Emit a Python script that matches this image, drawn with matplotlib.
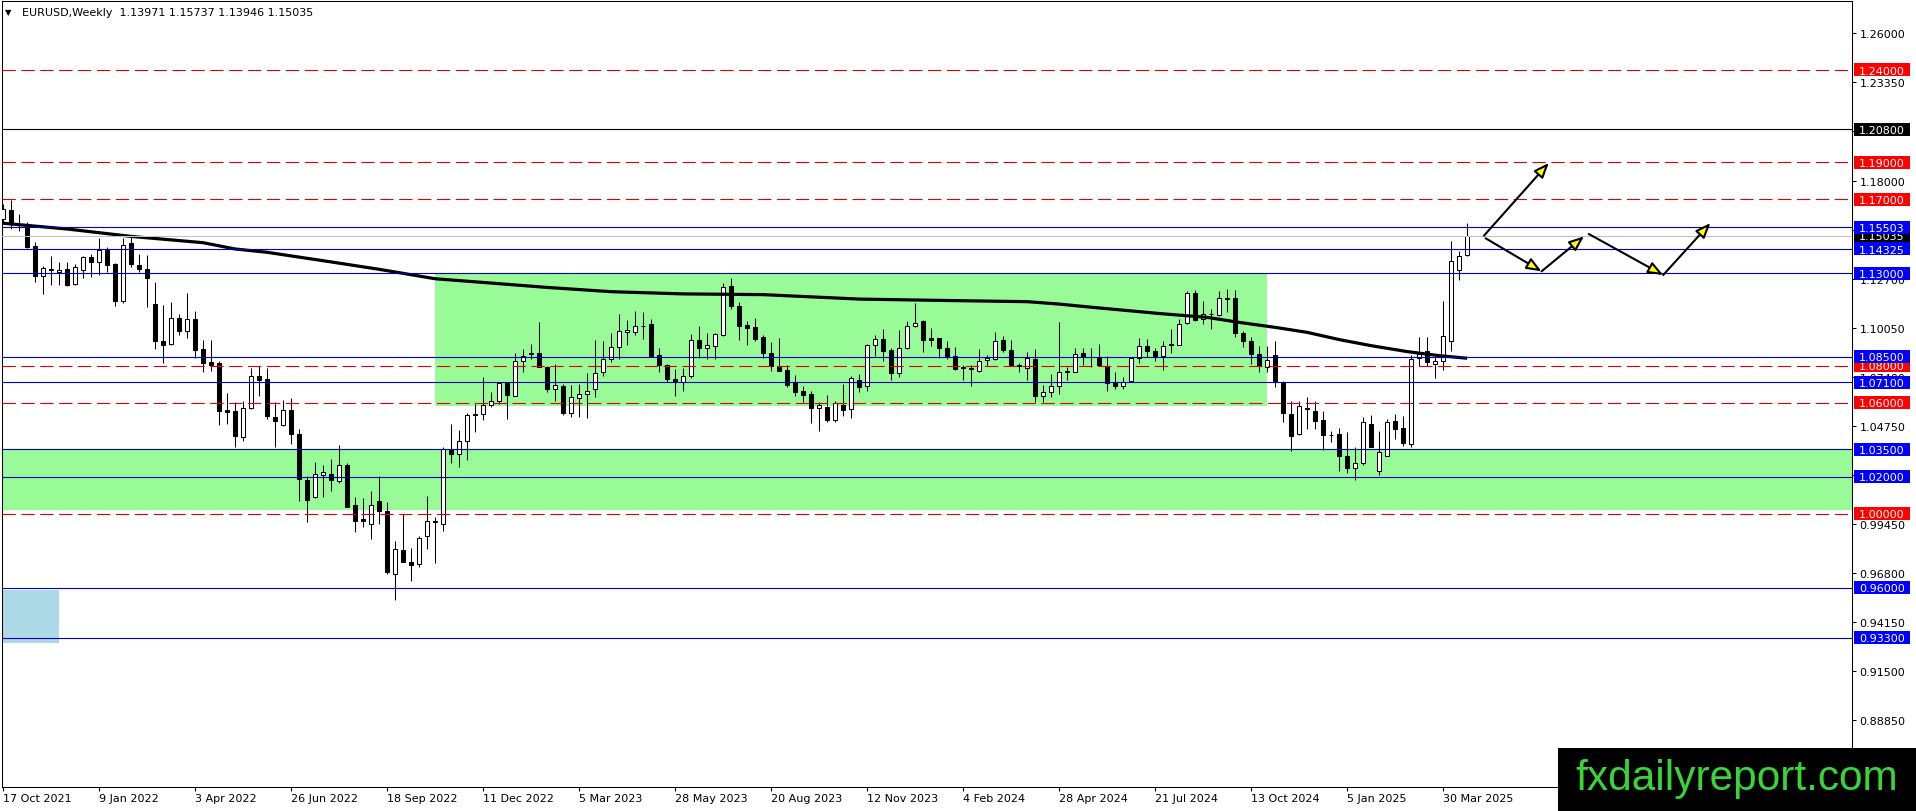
import numpy as np
import matplotlib
matplotlib.use("Agg")
import matplotlib.pyplot as plt
from matplotlib.patches import Rectangle
from matplotlib.transforms import blended_transform_factory

# EURUSD weekly candles, week 0 = 17 Oct 2021
opens = [1.1594, 1.1642, 1.1565, 1.1567, 1.1450, 1.1288, 1.1317, 1.1306, 1.1323, 1.1242,
         1.1319, 1.1391, 1.1359, 1.1427, 1.1350, 1.1152, 1.1466, 1.1346, 1.1323, 1.1135,
         1.0935, 1.0919, 1.1058, 1.0989, 1.1052, 1.0890, 1.0819, 1.0815, 1.0563, 1.0557,
         1.0413, 1.0572, 1.0743, 1.0729, 1.0522, 1.0482, 1.0559, 1.0431, 1.0183, 1.0089,
         1.0211, 1.0215, 1.0179, 1.0264, 1.0048, 0.9972, 0.9945, 1.0071, 1.0013, 0.9674,
         0.9804, 0.9737, 0.9728, 0.9877, 0.9955, 0.9944, 1.0343, 1.0322, 1.0394, 1.0533,
         1.0542, 1.0587, 1.0611, 1.0706, 1.0638, 1.0827, 1.0872, 1.0868, 1.0794, 1.0677,
         1.0691, 1.0544, 1.0628, 1.0650, 1.0673, 1.0769, 1.0839, 1.0904, 1.0983, 1.0985,
         1.1013, 1.1025, 1.0859, 1.0805, 1.0728, 1.0710, 1.0746, 1.0941, 1.0894, 1.0908,
         1.0966, 1.1229, 1.1124, 1.1019, 1.1012, 1.0954, 1.0867, 1.0800, 1.0777, 1.0711,
         1.0662, 1.0648, 1.0570, 1.0575, 1.0509, 1.0590, 1.0566, 1.0725, 1.0689, 1.0912,
         1.0945, 1.0887, 1.0759, 1.0894, 1.1016, 1.1043, 1.0948, 1.0948, 1.0896, 1.0851,
         1.0794, 1.0787, 1.0774, 1.0833, 1.0837, 1.0940, 1.0887, 1.0806, 1.0786, 1.0837,
         1.0635, 1.0657, 1.0693, 1.0766, 1.0768, 1.0867, 1.0849, 1.0849, 1.0800, 1.0707,
         1.0693, 1.0718, 1.0842, 1.0905, 1.0882, 1.0855, 1.0915, 1.0914, 1.1030, 1.1192,
         1.1053, 1.1080, 1.1075, 1.1165, 1.1165, 1.0976, 1.0932, 1.0864, 1.0792, 1.0860,
         1.0711, 1.0539, 1.0433, 1.0572, 1.0557, 1.0509, 1.0428, 1.0431, 1.0311, 1.0246,
         1.0273, 1.0485, 1.0233, 1.0314, 1.0500, 1.0464, 1.0377, 1.0841, 1.0882, 1.0811,
         1.0824, 1.0933, 1.1320, 1.13971]
highs = [1.1675, 1.1698, 1.1621, 1.1576, 1.1468, 1.1341, 1.1395, 1.1359, 1.1364, 1.1350,
         1.1395, 1.1404, 1.1490, 1.1440, 1.1355, 1.1493, 1.1508, 1.1404, 1.1400, 1.1252,
         1.1130, 1.1144, 1.1079, 1.1193, 1.1095, 1.0941, 1.0941, 1.0824, 1.0653, 1.0606,
         1.0610, 1.0788, 1.0797, 1.0788, 1.0604, 1.0613, 1.0626, 1.0459, 1.0206, 1.0278,
         1.0264, 1.0296, 1.0372, 1.0275, 1.0089, 1.0085, 1.0122, 1.0203, 1.0061, 0.9854,
         0.9998, 0.9813, 0.9881, 1.0094, 0.9980, 1.0363, 1.0484, 1.0451, 1.0547, 1.0596,
         1.0737, 1.0661, 1.0713, 1.0711, 1.0872, 1.0890, 1.0917, 1.1037, 1.0799, 1.0808,
         1.0700, 1.0694, 1.0700, 1.0760, 1.0938, 1.0935, 1.0975, 1.1079, 1.1047, 1.1094,
         1.1092, 1.1052, 1.0899, 1.0809, 1.0782, 1.0786, 1.0973, 1.1013, 1.0977, 1.0980,
         1.1247, 1.1277, 1.1145, 1.1043, 1.1060, 1.0965, 1.0927, 1.0949, 1.0806, 1.0748,
         1.0690, 1.0665, 1.0603, 1.0642, 1.0610, 1.0701, 1.0747, 1.0756, 1.0918, 1.0966,
         1.1000, 1.0894, 1.0993, 1.1043, 1.1142, 1.1046, 1.1002, 1.0948, 1.0935, 1.0900,
         1.0806, 1.0802, 1.0890, 1.0860, 1.0981, 1.0963, 1.0942, 1.0817, 1.0876, 1.0891,
         1.0697, 1.0756, 1.1039, 1.0795, 1.0894, 1.0894, 1.0894, 1.0917, 1.0854, 1.0765,
         1.0738, 1.0846, 1.0950, 1.0946, 1.0895, 1.0936, 1.0998, 1.1053, 1.1206, 1.1210,
         1.1152, 1.1107, 1.1206, 1.1215, 1.1210, 1.0991, 1.0954, 1.0909, 1.0909, 1.0936,
         1.0720, 1.0611, 1.0611, 1.0630, 1.0611, 1.0557, 1.0449, 1.0465, 1.0442, 1.0360,
         1.0522, 1.0535, 1.0449, 1.0513, 1.0539, 1.0530, 1.0860, 1.0954, 1.0954, 1.0855,
         1.1149, 1.1473, 1.1423, 1.15737]
lows = [1.1572, 1.1540, 1.1531, 1.1437, 1.1255, 1.1188, 1.1239, 1.1235, 1.1233, 1.1238,
        1.1274, 1.1278, 1.1292, 1.1310, 1.1125, 1.1139, 1.1337, 1.1308, 1.1117, 1.0892,
        1.0813, 1.0910, 1.0967, 1.0953, 1.0845, 1.0766, 1.0770, 1.0478, 1.0485, 1.0359,
        1.0395, 1.0566, 1.0635, 1.0514, 1.0359, 1.0473, 1.0377, 1.0071, 0.9953, 1.0084,
        1.0093, 1.0125, 1.0165, 1.0035, 0.9903, 0.9928, 0.9864, 0.9946, 0.9674, 0.9535,
        0.9737, 0.9635, 0.9710, 0.9809, 0.9733, 0.9908, 1.0273, 1.0251, 1.0291, 1.0443,
        1.0508, 1.0578, 1.0596, 1.0513, 1.0636, 1.0769, 1.0836, 1.0791, 1.0659, 1.0610,
        1.0535, 1.0525, 1.0525, 1.0516, 1.0634, 1.0747, 1.0818, 1.0836, 1.0911, 1.0965,
        1.0943, 1.0851, 1.0764, 1.0710, 1.0635, 1.0665, 1.0733, 1.0845, 1.0836, 1.0836,
        1.0962, 1.1109, 1.0940, 1.0911, 1.0934, 1.0845, 1.0774, 1.0770, 1.0687, 1.0639,
        1.0605, 1.0489, 1.0449, 1.0495, 1.0495, 1.0526, 1.0520, 1.0657, 1.0666, 1.0851,
        1.0828, 1.0724, 1.0740, 1.0890, 1.1011, 1.0876, 1.0905, 1.0845, 1.0836, 1.0780,
        1.0725, 1.0693, 1.0765, 1.0797, 1.0834, 1.0876, 1.0800, 1.0767, 1.0724, 1.0603,
        1.0606, 1.0630, 1.0648, 1.0724, 1.0764, 1.0804, 1.0792, 1.0800, 1.0666, 1.0675,
        1.0675, 1.0718, 1.0815, 1.0850, 1.0825, 1.0779, 1.0872, 1.0910, 1.1026, 1.1044,
        1.1026, 1.0999, 1.1072, 1.1089, 1.0954, 1.0900, 1.0810, 1.0765, 1.0765, 1.0684,
        1.0497, 1.0338, 1.0425, 1.0458, 1.0458, 1.0346, 1.0386, 1.0229, 1.0219, 1.0182,
        1.0265, 1.0360, 1.0211, 1.0311, 1.0405, 1.0368, 1.0360, 1.0801, 1.0801, 1.0733,
        1.0779, 1.0882, 1.1266, 1.13946]
closes = [1.1648, 1.1567, 1.1568, 1.1441, 1.1288, 1.1328, 1.1321, 1.1319, 1.1239, 1.1333,
          1.1391, 1.1364, 1.1424, 1.1346, 1.1152, 1.1454, 1.1350, 1.1324, 1.1274, 1.0935,
          1.0913, 1.1058, 1.0989, 1.1052, 1.0883, 1.0815, 1.0806, 1.0554, 1.0550, 1.0419,
          1.0572, 1.0743, 1.0725, 1.0527, 1.0500, 1.0563, 1.0433, 1.0188, 1.0075, 1.0215,
          1.0224, 1.0185, 1.0264, 1.0035, 0.9963, 0.9959, 1.0048, 1.0017, 0.9687, 0.9809,
          0.9741, 0.9724, 0.9867, 0.9962, 0.9960, 1.0349, 1.0325, 1.0394, 1.0533, 1.0542,
          1.0587, 1.0611, 1.0706, 1.0643, 1.0827, 1.0854, 1.0863, 1.0796, 1.0677, 1.0695,
          1.0544, 1.0634, 1.0646, 1.0664, 1.0763, 1.0839, 1.0904, 1.0989, 1.0992, 1.1016,
          1.1018, 1.0854, 1.0803, 1.0728, 1.0710, 1.0746, 1.0941, 1.0894, 1.0912, 1.0972,
          1.1229, 1.1124, 1.1016, 1.1007, 1.0944, 1.0869, 1.0797, 1.0774, 1.0698, 1.0657,
          1.0644, 1.0570, 1.0588, 1.0507, 1.0599, 1.0563, 1.0734, 1.0687, 1.0914, 1.0945,
          1.0882, 1.0761, 1.0894, 1.1013, 1.1034, 1.0941, 1.0941, 1.0896, 1.0855, 1.0783,
          1.0790, 1.0784, 1.0824, 1.0842, 1.0936, 1.0887, 1.0804, 1.0797, 1.0842, 1.0639,
          1.0657, 1.0693, 1.0765, 1.0770, 1.0864, 1.0849, 1.0850, 1.0804, 1.0707, 1.0693,
          1.0714, 1.0842, 1.0905, 1.0882, 1.0855, 1.0909, 1.0918, 1.1026, 1.1192, 1.1048,
          1.1080, 1.1078, 1.1165, 1.1163, 1.0976, 1.0936, 1.0864, 1.0801, 1.0833, 1.0720,
          1.0545, 1.0422, 1.0581, 1.0567, 1.0503, 1.0428, 1.0428, 1.0311, 1.0246, 1.0273,
          1.0494, 1.0363, 1.0332, 1.0494, 1.0458, 1.0381, 1.0837, 1.0864, 1.0819, 1.0826,
          1.0963, 1.1365, 1.1396, 1.15035]

# moving average (week index, value)
ma_week = [-0.2, 8, 16, 25, 29, 33, 41, 47, 54, 60, 68, 76, 85, 95, 107, 114, 120,
           128, 132, 136, 140.5, 144.5, 150.5, 154.5, 159, 163, 167, 171, 175.5, 179.5, 183]
ma_value = [1.1572, 1.1540, 1.1500, 1.1466, 1.1432, 1.1414, 1.1362, 1.1322, 1.1271, 1.1251,
            1.1224, 1.1201, 1.1189, 1.1185, 1.1161, 1.1156, 1.1152, 1.1147, 1.1134, 1.1117,
            1.1099, 1.1083, 1.1062, 1.1035, 1.1008, 1.0981, 1.0942, 1.0909, 1.0877, 1.0855, 1.0841]

red_levels = [1.24, 1.19, 1.17, 1.08, 1.06, 1.00]
blue_levels = [1.15503, 1.14325, 1.13, 1.085, 1.071, 1.035, 1.02, 0.96, 0.933]
black_level = 1.208
last_price = closes[-1]

# zones: (week from, week to, price low, price high)
range_zone = (54.0, 158.0, 1.0584, 1.1300)
support_zone = (1.0022, 1.0346)
target_box = (-0.19, 7.0, 0.9299, 0.9588)

# projected path drawn as arrows: (start, end)
arrows = [((185.1, 1.1504), (193.2, 1.1897)),
          ((185.3, 1.1490), (192.3, 1.1311)),
          ((192.3, 1.1311), (197.6, 1.1500)),
          ((198.2, 1.1513), (207.5, 1.1291)),
          ((207.5, 1.1291), (213.4, 1.1572))]

date_labels = ["17 Oct 2021", "9 Jan 2022", "3 Apr 2022", "26 Jun 2022", "18 Sep 2022",
               "11 Dec 2022", "5 Mar 2023", "28 May 2023", "20 Aug 2023", "12 Nov 2023",
               "4 Feb 2024", "28 Apr 2024", "21 Jul 2024", "13 Oct 2024", "5 Jan 2025",
               "30 Mar 2025"]
y_ticks = [1.26, 1.2335, 1.207, 1.18, 1.1535, 1.127, 1.1005, 1.074, 1.0475, 1.021,
           0.9945, 0.968, 0.9415, 0.915, 0.8885]

W, H = 1916, 812
fig = plt.figure(figsize=(W / 100, H / 100), dpi=100)
ax = fig.add_axes([1.5 / W, (H - 788) / H, (1852 - 1.5) / W, (788 - 1.5) / H])
ax.set_xlim(-0.19, 231.1)
ax.set_ylim(0.85221, 1.27758)

green = "#98fb98"
ax.add_patch(Rectangle((range_zone[0], range_zone[2]), range_zone[1] - range_zone[0],
                       range_zone[3] - range_zone[2], facecolor=green, edgecolor="none", zorder=1))
ax.axhspan(support_zone[0], support_zone[1], facecolor=green, edgecolor="none", zorder=1)
ax.add_patch(Rectangle((target_box[0], target_box[2]), target_box[1] - target_box[0],
                       target_box[3] - target_box[2], facecolor="#add8e6", edgecolor="none", zorder=1))

# candles
o = np.array(opens)
h = np.array(highs)
l = np.array(lows)
c = np.array(closes)
x = np.arange(len(o))
up = c >= o
ax.vlines(x, l, h, color="black", lw=0.75, zorder=2)
lo = np.minimum(o, c)
hh = np.abs(c - o)
ax.bar(x[up], hh[up], bottom=lo[up], width=0.5, color="white", edgecolor="black", linewidth=0.75, zorder=3)
ax.bar(x[~up], hh[~up], bottom=lo[~up], width=0.5, color="black", edgecolor="black", linewidth=0.75, zorder=3)

ax.plot(ma_week, ma_value, color="black", lw=2.3, solid_capstyle="butt", zorder=4)

# levels
ax.axhline(last_price, color="#c0c0c0", lw=0.75, zorder=5)
for lv in red_levels:
    ax.axhline(lv, color="#e00000", lw=0.8, dashes=(12, 5), zorder=5)
for lv in blue_levels:
    ax.axhline(lv, color="#0000c0", lw=0.8, zorder=5)
ax.axhline(black_level, color="black", lw=0.8, zorder=5)

for (x0, y0), (x1, y1) in arrows:
    ax.annotate("", xy=(x1, y1), xytext=(x0, y0), zorder=8,
                arrowprops=dict(arrowstyle="-|>,head_length=0.5,head_width=0.2", mutation_scale=18,
                                fc="#ffff00", ec="black", lw=1.5, shrinkA=0, shrinkB=0))

# axes look
for sp in ax.spines.values():
    sp.set_linewidth(0.75)
    sp.set_color("black")
ax.yaxis.tick_right()
ax.set_yticks(y_ticks)
ax.set_yticklabels([f"{v:.5f}" for v in y_ticks])
ax.tick_params(axis="y", direction="out", length=3, width=0.75, pad=2.5, labelsize=8)
ax.set_xticks(range(0, 12 * len(date_labels), 12))
ax.set_xticklabels(date_labels, ha="left")
ax.tick_params(axis="x", direction="out", length=3, width=0.75, pad=1.5, labelsize=8)
ax.minorticks_off()

# price tags on the right scale
trans = blended_transform_factory(ax.transAxes, ax.transData)
ax_w = 1852 - 1.5
bx0 = (1854 - 1.5) / ax_w
bw = 56 / ax_w
bh = 13 / 1849


def price_tag(v, fc, z):
    ax.add_patch(Rectangle((bx0, v - bh / 2), bw, bh, transform=trans, facecolor=fc,
                           edgecolor="none", clip_on=False, zorder=z))
    ax.text(bx0 + bw / 2, v - bh * 0.05, f"{v:.5f}", transform=trans, color="white", fontsize=8,
            ha="center", va="center", clip_on=False, zorder=z + 0.1)


price_tag(last_price, "black", 20)
for lv in red_levels:
    price_tag(lv, "#ff0000", 21)
for lv in blue_levels:
    price_tag(lv, "#0000ff", 22)
price_tag(black_level, "black", 22)

# header
fig.text(5 / W, 1 - 13 / H, "\u25bc", fontsize=6, va="center", ha="left")
fig.text(22 / W, 1 - 13 / H,
         f"EURUSD,Weekly  {opens[-1]:.5f} {highs[-1]:.5f} {lows[-1]:.5f} {closes[-1]:.5f}",
         fontsize=8, va="center", ha="left")

# watermark
fig.add_artist(Rectangle((1558 / W, 0), (W - 1558) / W, 63 / H, transform=fig.transFigure,
                         facecolor="black", edgecolor="none", zorder=5))
fig.text(1575 / W, 22 / H, "fxdailyreport.com", color="#38d438", fontsize=30.5,
         family="Liberation Sans", ha="left", va="baseline", zorder=6)

fig.savefig("out.png", dpi=100)
